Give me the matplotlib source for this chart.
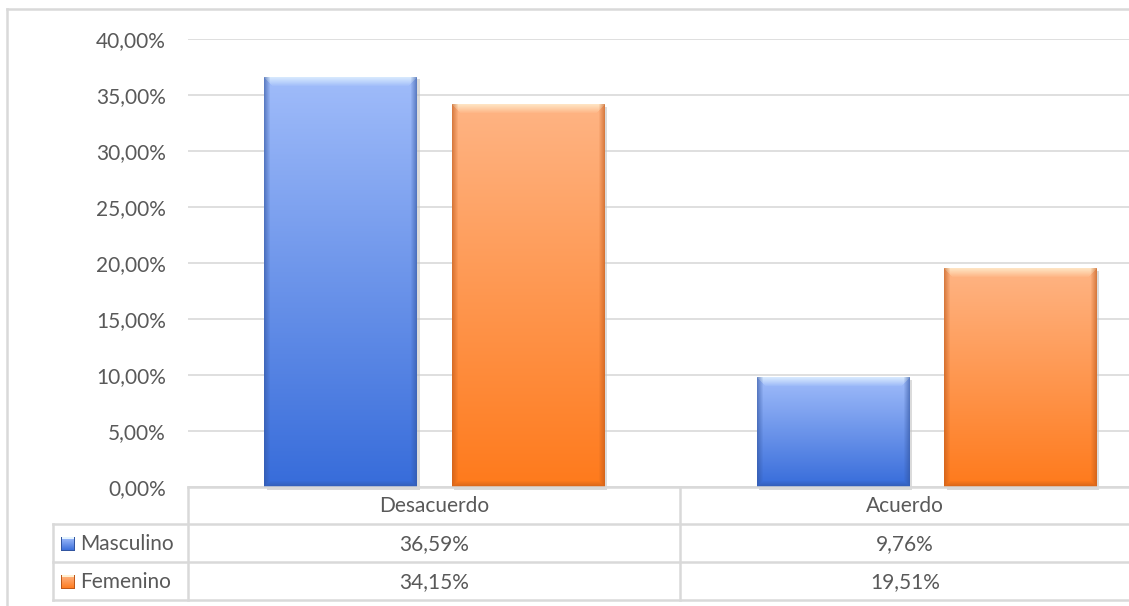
import numpy as np
import matplotlib
matplotlib.use("Agg")
import matplotlib.pyplot as plt
from matplotlib.lines import Line2D
from matplotlib.patches import Rectangle

# ---- data ----
categories = ["Desacuerdo", "Acuerdo"]
series_names = ["Masculino", "Femenino"]
masculino = [36.59, 9.76]
femenino = [34.15, 19.51]
masc_labels = ["36,59%", "9,76%"]
fem_labels = ["34,15%", "19,51%"]
yticks = [0, 5, 10, 15, 20, 25, 30, 35, 40]
ytick_labels = ["0,00%", "5,00%", "10,00%", "15,00%", "20,00%", "25,00%",
                "30,00%", "35,00%", "40,00%"]

W, H = 1129, 606
DPI = 100
FONT = "Lato"
TXT = "#595959"
GRID = "#D9D9D9"
FS = 15

fig = plt.figure(figsize=(W / DPI, H / DPI), dpi=DPI)
fig.patch.set_facecolor("white")

def fx(px):
    return px / W

def fy(py):
    return 1 - py / H

ax = fig.add_axes([fx(188), fy(487), fx(1129) - fx(188), fy(39) - fy(487)])
ax.set_xlim(-0.5, 1.41)
ax.set_ylim(0, 40)
for s in ax.spines.values():
    s.set_visible(False)
ax.set_yticks(yticks)
ax.set_yticklabels(ytick_labels, fontsize=FS, color=TXT, family=FONT)
ax.tick_params(axis="y", length=0, pad=16)
ax.set_xticks([])
ax.yaxis.grid(True, color=GRID, linewidth=1.2)
ax.set_axisbelow(True)

# colour schemes: top, bottom, highlight, edge
blue = dict(top=np.array([160, 188, 250]), bot=np.array([55, 108, 218]),
            hi=np.array([228, 244, 255]), edge=np.array([50, 85, 160]))
orange = dict(top=np.array([255, 180, 132]), bot=np.array([254, 122, 28]),
              hi=np.array([255, 240, 210]), edge=np.array([190, 88, 25]))

width = 0.31
offset = 0.19
x = np.arange(len(categories))

def bar_image(x0, x1, h, col):
    p0 = ax.transData.transform((x0, 0))
    p1 = ax.transData.transform((x1, h))
    wpx = max(int(round(p1[0] - p0[0])), 2)
    hpx = max(int(round(p1[1] - p0[1])), 2)
    t = np.linspace(0, 1, hpx)[:, None, None]
    img = col["top"] * (1 - t) + col["bot"] * t
    img = np.repeat(img, wpx, axis=1).astype(float)
    yy = np.arange(hpx)[:, None]
    xx = np.arange(wpx)[None, :]
    # top highlight bevel (trapezoid)
    bt = 9.0
    dist_side = np.minimum(xx, wpx - 1 - xx)
    f = np.clip(1 - yy / bt, 0, 1) * (dist_side >= yy)
    f = np.broadcast_to(f, (hpx, wpx)).astype(float)
    img = img * (1 - f[..., None] * 0.8) + col["hi"] * (f[..., None] * 0.8)
    # side / bottom darker edges
    be = 6.0
    dl = np.clip(1 - xx / be, 0, 1)
    dr = np.clip(1 - (wpx - 1 - xx) / be, 0, 1)
    db = np.clip(1 - (hpx - 1 - yy) / be, 0, 1)
    d = np.maximum(np.maximum(dl, dr), db)
    d = np.broadcast_to(d, (hpx, wpx)) * 0.6
    img = img * (1 - d[..., None]) + col["edge"] * d[..., None]
    return np.clip(img / 255.0, 0, 1)

for vals, sign, col in ((masculino, -1, blue), (femenino, 1, orange)):
    for xi, v in zip(x, vals):
        x0 = xi + sign * offset - width / 2
        x1 = x0 + width
        # soft shadow
        ax.add_patch(Rectangle((x0 + 0.005, -0.3), width, v + 0.1,
                               facecolor="#C4C4C4", edgecolor="none",
                               alpha=0.6, zorder=2, clip_on=False))
        img = bar_image(x0, x1, v, col)
        ax.imshow(img, extent=(x0, x1, 0, v), aspect="auto",
                  interpolation="bilinear", zorder=3, origin="upper")

ax.set_xlim(-0.5, 1.41)
ax.set_ylim(0, 40)

# ---- data table ----
def hline(y, x0, x1):
    fig.add_artist(Line2D([fx(x0), fx(x1)], [fy(y), fy(y)], color=GRID,
                          linewidth=1.8, transform=fig.transFigure))

def vline(xp, y0, y1):
    fig.add_artist(Line2D([fx(xp), fx(xp)], [fy(y0), fy(y1)], color=GRID,
                          linewidth=1.8, transform=fig.transFigure))

hline(487, 188, 1129)
hline(524, 53, 1129)
hline(562, 53, 1129)
hline(600, 53, 1129)
vline(188, 487, 600)
vline(680, 487, 600)
vline(53, 524, 600)
# outer chart border
vline(7, 9, 606)
hline(9, 7, 1129)

col_centers = [434, 905]
for c, name in zip(col_centers, categories):
    fig.text(fx(c), fy(506), name, ha="center", va="center", fontsize=FS,
             color=TXT, family=FONT)
for c, m, f in zip(col_centers, masc_labels, fem_labels):
    fig.text(fx(c), fy(544), m, ha="center", va="center", fontsize=FS,
             color=TXT, family=FONT)
    fig.text(fx(c), fy(582), f, ha="center", va="center", fontsize=FS,
             color=TXT, family=FONT)

KS = 14
for name, ycen, col in ((series_names[0], 544, blue), (series_names[1], 582, orange)):
    kax = fig.add_axes([fx(61), fy(ycen + KS / 2), fx(KS), KS / H])
    t = np.linspace(0, 1, KS)[:, None, None]
    kimg = (col["top"] * (1 - t) + col["bot"] * t)
    kimg = np.repeat(kimg, KS, axis=1)
    kimg[:, :1] = col["edge"]; kimg[:, -1:] = col["edge"]; kimg[-1:, :] = col["edge"]
    kimg[:2, 1:-1] = col["hi"]
    kax.imshow(np.clip(kimg / 255.0, 0, 1), aspect="auto", interpolation="bilinear")
    kax.axis("off")
    fig.text(fx(80), fy(ycen), name, ha="left", va="center", fontsize=FS,
             color=TXT, family=FONT)

fig.savefig("out.png", dpi=DPI, facecolor="white")
